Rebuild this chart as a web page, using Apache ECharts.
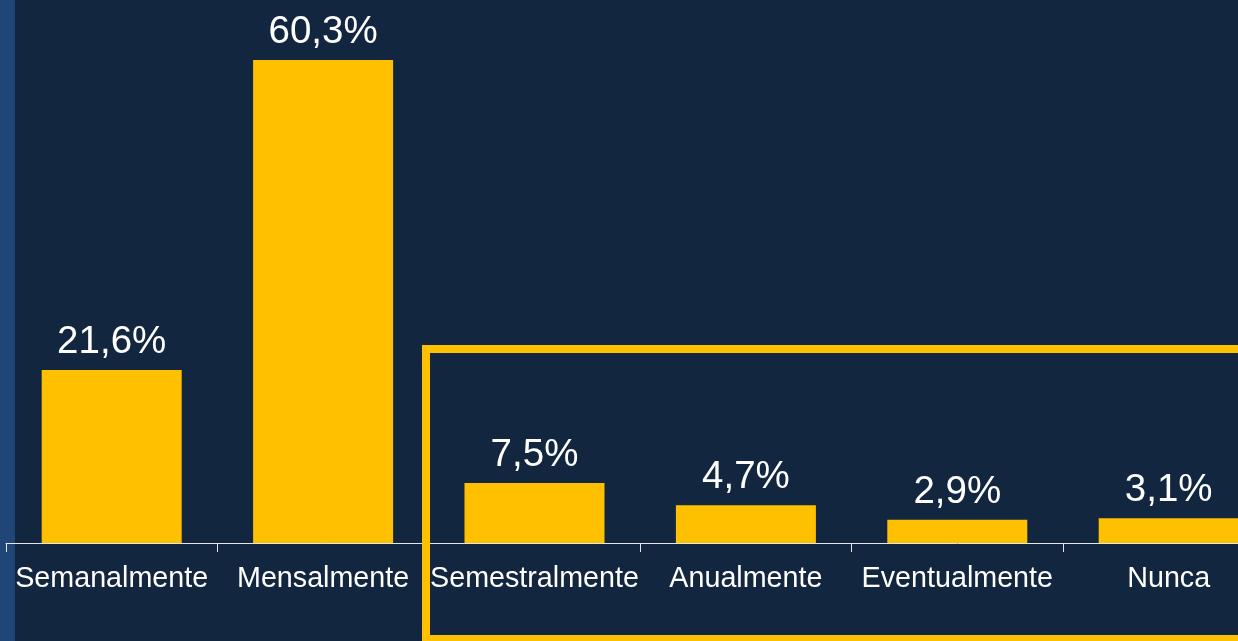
<!DOCTYPE html>
<html>
<head>
<meta charset="utf-8">
<script src="https://cdn.jsdelivr.net/npm/echarts@6/dist/echarts.min.js"></script>
<style>
html,body{margin:0;padding:0;background:#12263F;overflow:hidden;width:1238px;height:641px;}
#c{width:1290px;height:641px;}
</style>
</head>
<body>
<div id="c"></div>
<script>
const categories = ['Semanalmente','Mensalmente','Semestralmente','Anualmente','Eventualmente','Nunca'];
const values = [21.6, 60.3, 7.5, 4.7, 2.9, 3.1];

const chart = echarts.init(document.getElementById('c'), null, {renderer:'canvas'});
chart.setOption({
  backgroundColor: '#12263F',
  animation: false,
  grid: {left: 6, width: 1268.4, top: 22.4, height: 520.6, containLabel: false},
  xAxis: {
    type: 'category',
    data: categories,
    z: 5,
    axisLine: {show: true, lineStyle: {color: '#E6E6E6', width: 1}},
    axisTick: {show: true, length: 9, lineStyle: {color: '#E6E6E6', width: 1}},
    axisLabel: {color: '#FFFFFF', fontFamily: 'Liberation Sans, Arial, sans-serif', fontSize: 28.7, margin: 22, interval: 0}
  },
  yAxis: {
    type: 'value', min: 0, max: 65, show: false,
    splitLine: {show: false}
  },
  series: [{
    type: 'bar',
    data: values,
    barWidth: 140,
    itemStyle: {color: '#FFC000'},
    label: {
      show: true, position: 'top', distance: 8,
      color: '#FFFFFF', fontFamily: 'Liberation Sans, Arial, sans-serif', fontSize: 38.5,
      formatter: p => p.value.toFixed(1).replace('.', ',') + '%'
    }
  }],
  graphic: [
    {type: 'rect', left: 0, top: 0, shape: {x: 0, y: 0, width: 15, height: 641}, style: {fill: '#1F4677'}, z: -10},
    {type: 'rect', shape: {x: 426, y: 349, width: 900, height: 290}, style: {fill: 'none', stroke: '#FFC000', lineWidth: 8}, z: 100}
  ]
});
</script>
</body>
</html>
